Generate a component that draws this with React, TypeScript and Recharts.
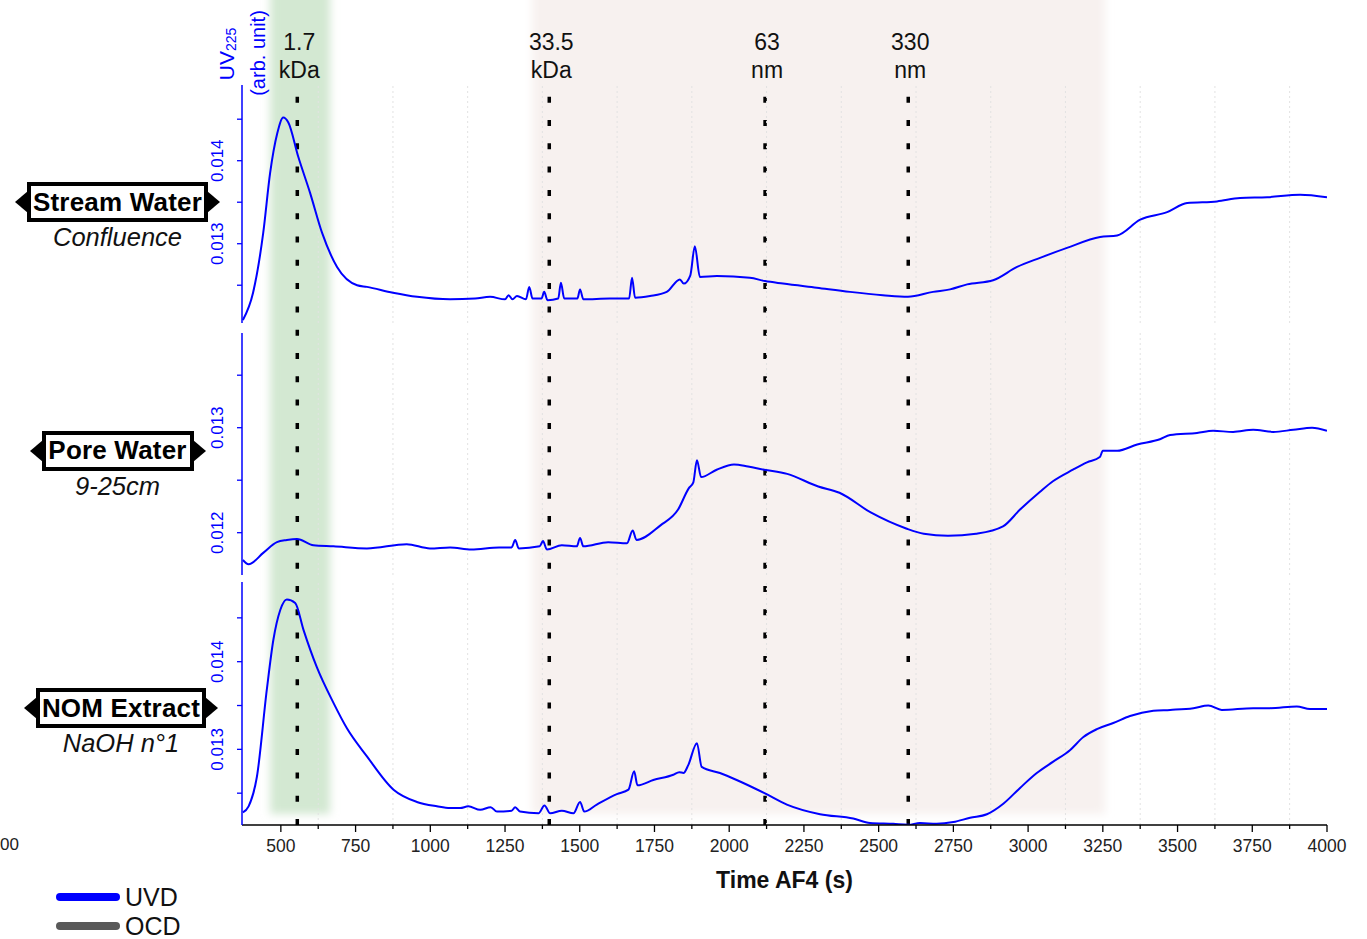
import React from 'react';
import { LineChart, Line, XAxis, YAxis, ReferenceLine, ReferenceArea } from 'recharts';

// AF4 fractograms, UV 225 nm signal, three samples stacked on a shared time axis
const timeTicks = [500, 750, 1000, 1250, 1500, 1750, 2000, 2250, 2500, 2750, 3000, 3250, 3500, 3750, 4000];
const timeMinorTicks = [625, 875, 1125, 1375, 1625, 1875, 2125, 2375, 2625, 2875, 3125, 3375, 3625, 3875];
const timeDomain: [number, number] = [370, 4000];

// size markers (s) and shaded fractions
const markerTimes = [555, 1398, 2120, 2599];
const markerValues = ['1.7', '33.5', '63', '330'];
const markerUnits = ['kDa', 'kDa', 'nm', 'nm'];
const smallFraction: [number, number] = [464, 665];
const colloidFraction: [number, number] = [1341, 3257];

const streamWater: [number, number][] = [
  [373, 0.01208], [407, 0.01241], [441, 0.01313], [464, 0.01385], [488, 0.01433], [508, 0.01452],
  [525, 0.01446], [558, 0.01405], [598, 0.01361], [638, 0.01313], [688, 0.01272], [755, 0.0125],
  [788, 0.01248], [875, 0.01241], [956, 0.01236], [1066, 0.01233], [1150, 0.01234], [1200, 0.01236],
  [1250, 0.01233], [1262, 0.01238], [1275, 0.01233], [1290, 0.01237], [1320, 0.01233], [1331, 0.01248],
  [1342, 0.01234], [1372, 0.01234], [1381, 0.01242], [1392, 0.01232], [1428, 0.01234], [1437, 0.01253],
  [1448, 0.01234], [1492, 0.01234], [1501, 0.01245], [1512, 0.01233], [1600, 0.01234], [1665, 0.01234],
  [1675, 0.01259], [1685, 0.01235], [1735, 0.01237], [1791, 0.01242], [1835, 0.01257], [1848, 0.01252],
  [1870, 0.01262], [1885, 0.01297], [1902, 0.0126], [1959, 0.01261], [2069, 0.01259], [2120, 0.01255],
  [2180, 0.01252], [2293, 0.01247], [2404, 0.01242], [2514, 0.01238], [2598, 0.01236], [2682, 0.01242],
  [2739, 0.01245], [2796, 0.01251], [2883, 0.01256], [2963, 0.01272], [3040, 0.01283], [3130, 0.01295],
  [3241, 0.01308], [3298, 0.0131], [3375, 0.01329], [3465, 0.01338], [3532, 0.01349], [3632, 0.01351],
  [3709, 0.01355], [3800, 0.01356], [3910, 0.01359], [4000, 0.01356],
];

const poreWater: [number, number][] = [
  [373, 0.01174], [392, 0.0117], [442, 0.01181], [487, 0.01191], [520, 0.01193], [554, 0.01194],
  [609, 0.01188], [676, 0.01187], [788, 0.01185], [921, 0.01189], [999, 0.01185], [1066, 0.01186],
  [1137, 0.01184], [1230, 0.01186], [1272, 0.01186], [1284, 0.01193], [1296, 0.01185], [1366, 0.01187],
  [1377, 0.01192], [1390, 0.01184], [1440, 0.01188], [1490, 0.01187], [1501, 0.01195], [1512, 0.01187],
  [1595, 0.01191], [1658, 0.0119], [1677, 0.01202], [1690, 0.01193], [1770, 0.01207], [1829, 0.01222],
  [1864, 0.01242], [1880, 0.01248], [1892, 0.01269], [1906, 0.01253], [1958, 0.0126], [2016, 0.01265],
  [2063, 0.01263], [2117, 0.0126], [2194, 0.01256], [2298, 0.01244], [2369, 0.01238], [2475, 0.01219],
  [2592, 0.01204], [2651, 0.01199], [2732, 0.01197], [2826, 0.01199], [2916, 0.01206], [2973, 0.01222],
  [3040, 0.01239], [3083, 0.01249], [3150, 0.0126], [3197, 0.01267], [3240, 0.01272], [3250, 0.01278],
  [3298, 0.01278], [3365, 0.01284], [3441, 0.01289], [3475, 0.01293], [3565, 0.01295], [3619, 0.01297],
  [3686, 0.01296], [3753, 0.01298], [3820, 0.01296], [3887, 0.01298], [3950, 0.013], [4000, 0.01297],
];

const nomExtract: [number, number][] = [
  [373, 0.01228], [392, 0.01235], [420, 0.01269], [453, 0.01368], [475, 0.01425], [498, 0.01459],
  [520, 0.01471], [548, 0.01467], [576, 0.01436], [620, 0.01394], [676, 0.01353], [721, 0.01324],
  [788, 0.01292], [877, 0.01254], [955, 0.0124], [1022, 0.01235], [1066, 0.01233], [1100, 0.01233],
  [1127, 0.01235], [1167, 0.01231], [1202, 0.01234], [1223, 0.01229], [1272, 0.0123], [1284, 0.01234],
  [1300, 0.01229], [1362, 0.01227], [1382, 0.01236], [1401, 0.01227], [1440, 0.0123], [1479, 0.01227],
  [1501, 0.0124], [1515, 0.01229], [1557, 0.01237], [1624, 0.01249], [1663, 0.01254], [1682, 0.01275],
  [1693, 0.01259], [1746, 0.01265], [1813, 0.01271], [1833, 0.01274], [1847, 0.01273], [1863, 0.01282],
  [1892, 0.01307], [1908, 0.0128], [1969, 0.01273], [2025, 0.01265], [2118, 0.0125], [2193, 0.01237],
  [2304, 0.01226], [2415, 0.01221], [2471, 0.01216], [2549, 0.01215], [2599, 0.01214], [2638, 0.01216],
  [2694, 0.01215], [2750, 0.01217], [2806, 0.01222], [2862, 0.01226], [2917, 0.01238], [2973, 0.01256],
  [3029, 0.01273], [3084, 0.01286], [3140, 0.01299], [3185, 0.01314], [3230, 0.01323], [3285, 0.0133],
  [3341, 0.01338], [3419, 0.01344], [3475, 0.01345], [3553, 0.01347], [3603, 0.0135], [3648, 0.01345],
  [3753, 0.01347], [3809, 0.01347], [3899, 0.01349], [3943, 0.01346], [4000, 0.01346],
];

const streamTicks = [0.0125, 0.013, 0.0135, 0.014, 0.0145];
const poreTicks = [0.012, 0.0125, 0.013, 0.0135];
const nomTicks = [0.0125, 0.013, 0.0135, 0.014, 0.0145];

const legendNames = ['UVD', 'OCD'];
const legendColors = ['#0000ff', '#595959'];

const BLUE = '#0000ff';
const FONT = "Arial, 'Liberation Sans', sans-serif";
const W = 1367;
const H = 939;
const PLOT_LEFT = 242;
const PLOT_RIGHT = 1327;
const AXIS_Y = 825;
const Y_AXIS_W = 40;

const panels = [
  { name: 'Stream Water', sub: 'Confluence', data: streamWater, ticks: streamTicks,
    domain: [0.012045, 0.014912], top: 85, bottom: 323, tag: { cx: 117.5, cy: 202, w: 181 } },
  { name: 'Pore Water', sub: '9-25cm', data: poreWater, ticks: poreTicks,
    domain: [0.011597, 0.013902], top: 333, bottom: 575, tag: { cx: 117.5, cy: 450.5, w: 152 } },
  { name: 'NOM Extract', sub: 'NaOH n°1', data: nomExtract, ticks: nomTicks,
    domain: [0.012137, 0.014909], top: 582, bottom: AXIS_Y, tag: { cx: 121, cy: 708, w: 170 } },
];

const isMajor = (v: number, step: number) => Math.abs(v / step - Math.round(v / step)) < 1e-6;

const YTick = (props: any) => {
  const { x, y, payload } = props;
  const major = isMajor(payload.value, 0.001);
  const lx = x - 24;
  return (
    <g>
      <line x1={x - 5} x2={x} y1={y} y2={y} stroke={BLUE} strokeWidth={1.3} />
      {major && (
        <text x={lx} y={y} transform={`rotate(-90 ${lx} ${y})`} textAnchor="middle"
          dominantBaseline="central" fill={BLUE} fontSize={17} fontFamily={FONT}>
          {payload.value.toFixed(3)}
        </text>
      )}
    </g>
  );
};

const XTick = (props: any) => {
  const { x, y, payload } = props;
  const major = payload.value % 250 === 0;
  return (
    <g>
      <line x1={x} x2={x} y1={y} y2={y + (major ? 7 : 4)} stroke="#000" strokeWidth={1.3} />
      {major && (
        <text x={x} y={y + 27} textAnchor="middle" fill="#222" fontSize={17.5} fontFamily={FONT}>
          {payload.value}
        </text>
      )}
    </g>
  );
};

const UvTitle = (props: any) => {
  const vb = props.viewBox || { x: PLOT_LEFT - Y_AXIS_W, y: 85, width: Y_AXIS_W };
  const right = vb.x + vb.width;
  const x1 = right - 16;
  const y1 = vb.y - 31;
  const x2 = right + 16;
  const y2 = vb.y - 32;
  return (
    <g fill={BLUE} fontFamily={FONT}>
      <text x={x1} y={y1} transform={`rotate(-90 ${x1} ${y1})`} textAnchor="middle" dominantBaseline="central" fontSize={21}>
        UV<tspan fontSize={14} dy={5}>225</tspan>
      </text>
      <text x={x2} y={y2} transform={`rotate(-90 ${x2} ${y2})`} textAnchor="middle" dominantBaseline="central" fontSize={20}>
        (arb. unit)
      </text>
    </g>
  );
};

const TimeTitle = (props: any) => {
  const vb = props.viewBox || { x: PLOT_LEFT, y: AXIS_Y, width: PLOT_RIGHT - PLOT_LEFT };
  return (
    <text x={vb.x + vb.width / 2} y={vb.y + 63} textAnchor="middle" fontWeight="bold" fontSize={23} fill="#111" fontFamily={FONT}>
      Time AF4 (s)
    </text>
  );
};

const markerLabel = (value: string, unit: string) => (props: any) => {
  const vb = props.viewBox || {};
  const x = (vb.x ?? 0) + 2;
  const top = Math.min(vb.y ?? 88, (vb.y ?? 88) + (vb.height ?? 0));
  return (
    <g fill="#111" fontSize={23} fontFamily={FONT} textAnchor="middle">
      <text x={x} y={top - 38}>{value}</text>
      <text x={x} y={top - 10}>{unit}</text>
    </g>
  );
};

function SampleTag({ cx, cy, w, name, sub }: { cx: number; cy: number; w: number; name: string; sub: string }) {
  const left = cx - w / 2;
  return (
    <>
      <div style={{ position: 'absolute', left: left - 12, top: cy - 11, width: 0, height: 0,
        borderTop: '11px solid transparent', borderBottom: '11px solid transparent', borderRight: '13px solid #000' }} />
      <div style={{ position: 'absolute', left: left + w - 1, top: cy - 11, width: 0, height: 0,
        borderTop: '11px solid transparent', borderBottom: '11px solid transparent', borderLeft: '13px solid #000' }} />
      <div style={{ position: 'absolute', left, top: cy - 20, width: w, height: 40, boxSizing: 'border-box',
        border: '4px solid #000', background: '#fff', display: 'flex', alignItems: 'center', justifyContent: 'center',
        fontWeight: 'bold', fontSize: 26, letterSpacing: 0.2, color: '#000', whiteSpace: 'nowrap' }}>
        {name}
      </div>
      <div style={{ position: 'absolute', left: cx - 100, width: 200, top: cy + 35 - 14, height: 28, lineHeight: '28px',
        textAlign: 'center', fontStyle: 'italic', fontSize: 25.5, color: '#111' }}>
        {sub}
      </div>
    </>
  );
}

export default function App() {
  return (
    <div style={{ position: 'absolute', left: 0, top: 0, width: W, height: H, overflow: 'hidden',
      background: '#fff', fontFamily: FONT }}>
      {/* shaded fractions and size markers, spanning the three panels */}
      <div style={{ position: 'absolute', left: 0, top: 0 }}>
        <LineChart width={W} height={H} data={[]} margin={{ top: 88, right: W - PLOT_RIGHT, bottom: H - AXIS_Y, left: PLOT_LEFT }}>
          <defs>
            <filter id="soft" x="-20%" y="-20%" width="140%" height="140%">
              <feGaussianBlur stdDeviation="4" />
            </filter>
          </defs>
          <XAxis type="number" dataKey="t" domain={timeDomain} allowDataOverflow hide />
          <YAxis type="number" domain={[0, 1]} allowDataOverflow hide width={0} />
          <ReferenceArea x1={smallFraction[0]} x2={smallFraction[1]} y1={0.015} y2={1.3} ifOverflow="visible"
            fill="#d3e8d2" fillOpacity={1} stroke="none" style={{ filter: 'url(#soft)' }} />
          <ReferenceArea x1={colloidFraction[0]} x2={colloidFraction[1]} y1={0.015} y2={1.3} ifOverflow="visible"
            fill="#f7f1ef" fillOpacity={1} stroke="none" style={{ filter: 'url(#soft)' }} />
          {markerTimes.map((t, i) => (
            <ReferenceLine key={t} x={t} stroke="#000" strokeWidth={3.5} strokeDasharray="6 17.3"
              label={markerLabel(markerValues[i], markerUnits[i])} />
          ))}
        </LineChart>
      </div>

      {panels.map((p, idx) => {
        const last = idx === panels.length - 1;
        const rows = p.data.map(([t, uv]) => ({ t, uv }));
        return (
          <div key={p.name} style={{ position: 'absolute', left: 0, top: 0 }}>
            <LineChart width={W} height={H} data={rows}
              margin={{ top: p.top, right: W - PLOT_RIGHT, bottom: last ? H - AXIS_Y - 60 : H - p.bottom, left: PLOT_LEFT - Y_AXIS_W }}>
              {timeMinorTicks.map((t) => (
                <ReferenceLine key={t} x={t} stroke="#e2e2e2" strokeWidth={1} strokeDasharray="2 3" />
              ))}
              <XAxis type="number" dataKey="t" domain={timeDomain} allowDataOverflow
                hide={!last} height={60} ticks={[...timeTicks, ...timeMinorTicks]} interval={0}
                tickSize={0} tickMargin={0} tick={XTick} tickLine={false}
                axisLine={{ stroke: '#000', strokeWidth: 1.5 }}
                label={last ? TimeTitle : undefined} />
              <YAxis type="number" domain={p.domain} allowDataOverflow width={Y_AXIS_W}
                ticks={p.ticks} interval={0} tickSize={0} tickMargin={0} tick={YTick} tickLine={false}
                axisLine={{ stroke: BLUE, strokeWidth: 1.5 }}
                label={idx === 0 ? UvTitle : undefined} />
              <Line type="monotone" dataKey="uv" stroke={BLUE} strokeWidth={2} dot={false}
                activeDot={false} isAnimationActive={false} />
            </LineChart>
          </div>
        );
      })}

      {panels.map((p) => (
        <SampleTag key={p.name} cx={p.tag.cx} cy={p.tag.cy} w={p.tag.w} name={p.name} sub={p.sub} />
      ))}

      {/* leftover tick label at the left edge */}
      <div style={{ position: 'absolute', left: 0, top: 835, fontSize: 17, color: '#222' }}>00</div>

      {/* detector legend */}
      {legendNames.map((n, i) => (
        <React.Fragment key={n}>
          <div style={{ position: 'absolute', left: 56, top: 893 + i * 29, width: 64, height: 8,
            borderRadius: 4, background: legendColors[i] }} />
          <div style={{ position: 'absolute', left: 125, top: 883 + i * 29, height: 28, lineHeight: '28px',
            fontSize: 25, color: '#111' }}>{n}</div>
        </React.Fragment>
      ))}
    </div>
  );
}
